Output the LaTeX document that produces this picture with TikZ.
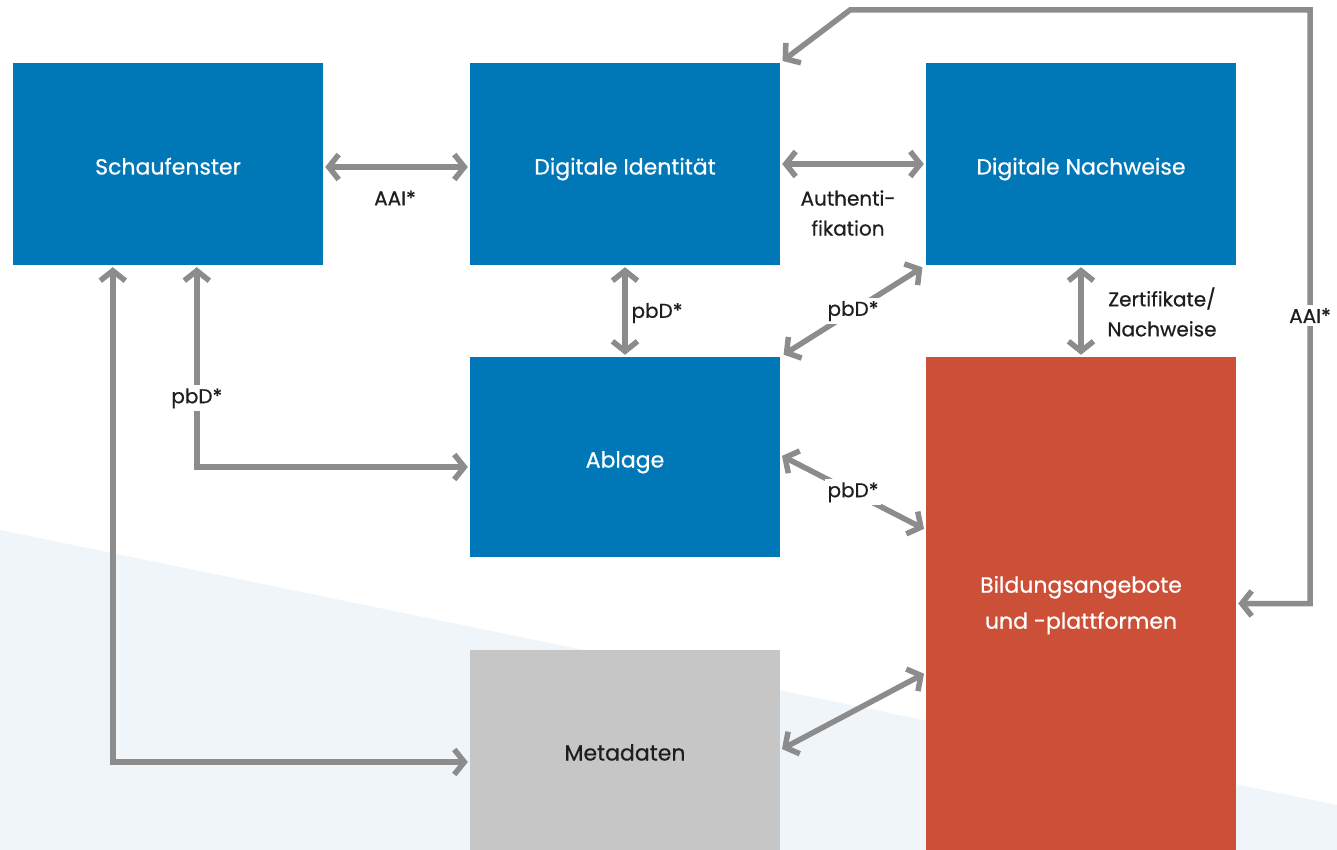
\documentclass[tikz,border=0pt]{standalone}
\usepackage{fontspec}
\setmainfont{Poppins}
\newfontfamily\medfont{Poppins}[FakeBold=0.6]
\usetikzlibrary{arrows.meta,calc}
\definecolor{bblue}{RGB}{0,119,182}
\definecolor{bred}{RGB}{204,80,56}
\definecolor{bgray}{RGB}{198,198,198}
\definecolor{agray}{RGB}{140,140,140}
\definecolor{band}{RGB}{240,245,249}
\definecolor{txt}{RGB}{30,30,30}
\begin{document}
\begin{tikzpicture}[x=1pt,y=-1pt,
  box/.style={draw=none, minimum width=310pt, minimum height=202pt, inner sep=0pt,
    text=white, font=\medfont\fontsize{22}{36}\selectfont, text height=21pt, text depth=0pt},
  arr/.style={draw=agray, line width=5.5pt, line join=miter,
    {Straight Barb[length=10pt,width=25pt]}-{Straight Barb[length=10pt,width=25pt]},
    shorten <=2pt, shorten >=2pt},
  lbl/.style={text=txt, font=\medfont\fontsize{20}{30}\selectfont, align=center, inner sep=3pt},
  gap/.style={lbl, fill=white}]
\useasboundingbox (0,0) rectangle (1337,850);
\fill[white] (0,0) rectangle (1337,850);
\fill[band] (0,530) -- (1337,805) -- (1337,850) -- (0,850) -- cycle;

\node[box, fill=bblue] (schau) at (168,164) {Schaufenster};
\node[box, fill=bblue] (ident) at (625,164) {Digitale Identität};
\node[box, fill=bblue] (nach) at (1081,164) {Digitale Nachweise};
\node[box, fill=bblue, minimum height=200pt] (abl) at (625,457) {Ablage};
\node[box, fill=bgray, text=txt, minimum height=200pt] (meta) at (625,750) {Metadaten};
\node[box, fill=bred, minimum height=493pt, text height=, text depth=] (bild) at (1081,603.5)
  {\raisebox{-5pt}{\begin{tabular}{@{}c@{}}Bildungsangebote\\und -plattformen\end{tabular}}};

\draw[arr] ([yshift=-3pt]schau.east) -- ([yshift=-3pt]ident.west);
\node[lbl] (l1) at (395,198) {AAI*};
\draw[arr] (ident.east) -- (nach.west);
\node[lbl] (l2) at (848,213) {Authenti-\\fikation};
\draw[arr] (ident.south) -- (abl.north);
\node[lbl] (l3) at (657,313) {pbD*};
\draw[arr, shorten <=4pt, shorten >=4pt] (nach.south west) -- node[gap]{pbD*} (abl.north east);
\draw[arr] (nach.south) -- (bild.north);
\node[lbl] (l5) at (1162,312) {Zertifikate/\\Nachweise};
\draw[arr] ([xshift=184pt]schau.south west) |- node[gap, pos=0.33]{pbD*} ([yshift=-10pt]abl.west);
\draw[arr] ([xshift=100pt]schau.south west) |- ([yshift=-12pt]meta.west);
\draw[arr] ([yshift=2pt]abl.east) -- node[gap]{pbD*} ([yshift=-173pt]bild.north west);
\draw[arr] (meta.east) -- ([yshift=-316pt]bild.north west);
\coordinate (r1) at (1310,603.5);
\coordinate (r2) at (1310,10);
\coordinate (r3) at (850,10);
\draw[arr, shorten >=3pt] (bild.east) -- (r1) -- node[gap, pos=0.485]{AAI*} (r2) -- (r3) -- (ident.north east);
\end{tikzpicture}
\end{document}
